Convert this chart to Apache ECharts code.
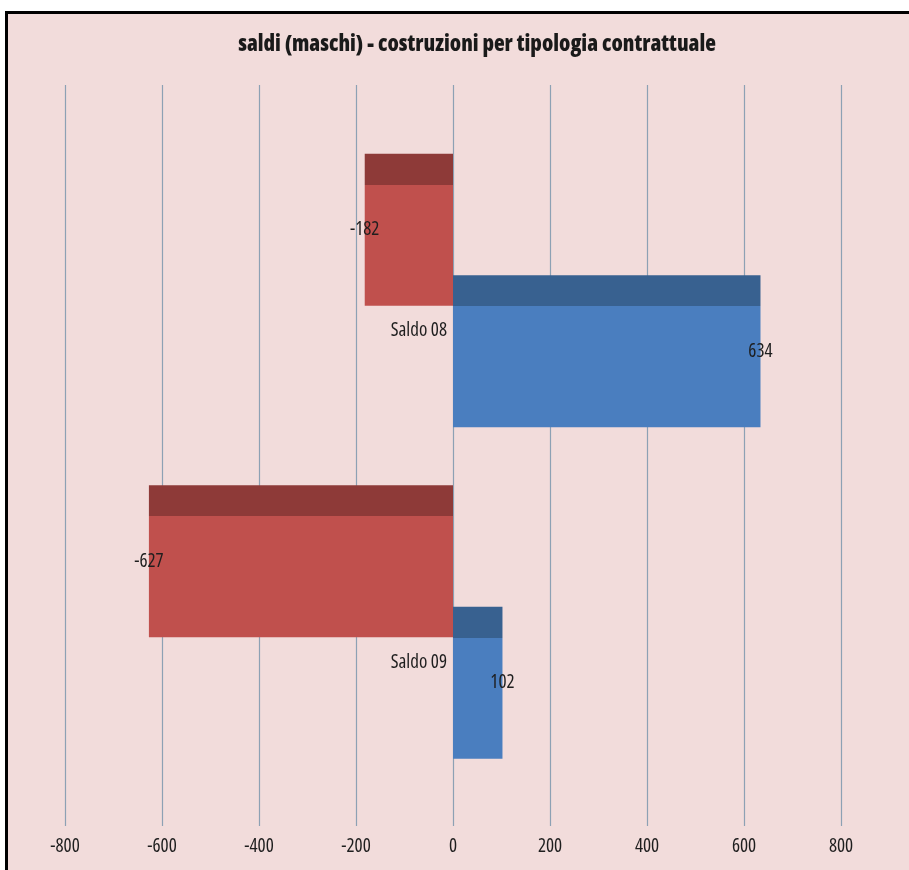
<!DOCTYPE html>
<html>
<head>
<meta charset="utf-8">
<title>saldi (maschi) - costruzioni per tipologia contrattuale</title>
<script src="https://cdn.jsdelivr.net/npm/echarts@6/dist/echarts.min.js"></script>
<style>
  html, body { margin: 0; padding: 0; background: #ffffff; }
  #chart { width: 909px; height: 870px; }
</style>
</head>
<body>
<div id="chart"></div>
<script>
// Balances by contract type, construction sector (men)
const categories = ['Saldo 08', 'Saldo 09'];
const redValues = [-182, -627];
const blueValues = [634, 102];
const tickMin = -800;
const tickMax = 800;
const tickStep = 200;
const titleText = 'saldi (maschi) - costruzioni per tipologia contrattuale';

// Open Sans is a variable font: the "condensed" keyword in the font
// shorthand selects its narrow width
const FONT = '"Open Sans", "DejaVu Sans Condensed", sans-serif';
const NARROW = 'condensed';
const NARROW_BOLD = '800 condensed';
const TEXT_COLOR = '#1e1e1e';
const GRID_COLOR = '#8DA1B4';

// flat bar with a darker strip along its top edge
function barFill(dark, light) {
  return new echarts.graphic.LinearGradient(0, 0, 0, 1, [
    { offset: 0, color: dark },
    { offset: 0.204, color: dark },
    { offset: 0.204, color: light },
    { offset: 1, color: light }
  ]);
}

const chart = echarts.init(document.getElementById('chart'), null, { renderer: 'canvas' });

const valueLabel = {
  show: true,
  distance: 0,
  align: 'center',
  verticalAlign: 'middle',
  fontFamily: FONT,
  fontWeight: NARROW,
  fontSize: 19,
  color: TEXT_COLOR
};

const plotLeft = 65;
const plotRight = 68;
const plotWidth = 909 - plotLeft - plotRight;
// x pixel of the value 0, where the category names sit
const zeroLeft = plotLeft + plotWidth * (0 - tickMin) / (tickMax - tickMin);
const barTop = 124.75;
const barBottom = 82.25;
// category names sit a little below the middle of their bar pair
const nameDrop = 40.5;

chart.setOption({
  backgroundColor: '#ffffff',
  animation: false,
  graphic: [
    {
      type: 'rect',
      z: -10,
      shape: { x: 6.5, y: 12.5, width: 940, height: 900 },
      style: { fill: '#F2DCDB', stroke: '#000000', lineWidth: 3 }
    },
    {
      type: 'text',
      x: 477,
      y: 45,
      style: {
        text: titleText,
        align: 'center',
        verticalAlign: 'middle',
        fontFamily: FONT,
        fontWeight: NARROW_BOLD,
        fontSize: 22,
        fill: '#1a1a1a'
      }
    }
  ],
  grid: [
    // gridlines and tick labels
    { left: plotLeft, right: plotRight, top: 85, bottom: 44, outerBoundsMode: 'none', containLabel: false },
    // bars
    { left: plotLeft, right: plotRight, top: barTop, bottom: barBottom, outerBoundsMode: 'none', containLabel: false },
    // category names, starting at the zero line
    { left: zeroLeft, right: plotRight, top: barTop + nameDrop, bottom: barBottom - nameDrop, outerBoundsMode: 'none', containLabel: false }
  ],
  xAxis: [
    {
      gridIndex: 0,
      type: 'value',
      min: tickMin,
      max: tickMax,
      interval: tickStep,
      axisLine: { show: false },
      axisTick: { show: false },
      splitLine: { show: true, lineStyle: { color: GRID_COLOR, width: 1.2 } },
      axisLabel: {
        margin: 11,
        fontFamily: FONT,
        fontWeight: NARROW,
        fontSize: 19,
        color: TEXT_COLOR
      }
    },
    {
      gridIndex: 1,
      type: 'value',
      min: tickMin,
      max: tickMax,
      interval: tickStep,
      show: false,
      splitLine: { show: false }
    },
    {
      gridIndex: 2,
      type: 'value',
      min: 0,
      max: tickMax,
      show: false,
      splitLine: { show: false }
    }
  ],
  yAxis: [
    {
      gridIndex: 0,
      type: 'value',
      show: false
    },
    {
      gridIndex: 1,
      type: 'category',
      data: categories,
      inverse: true,
      show: false
    },
    {
      gridIndex: 2,
      type: 'category',
      data: categories,
      inverse: true,
      position: 'left',
      axisLine: { show: false, onZero: false },
      axisTick: { show: false },
      splitLine: { show: false },
      axisLabel: {
        show: true,
        interval: 0,
        showMinLabel: true,
        showMaxLabel: true,
        hideOverlap: false,
        margin: 6,
        fontFamily: FONT,
        fontWeight: NARROW,
        fontSize: 19,
        color: TEXT_COLOR
      }
    }
  ],
  series: [
    {
      name: 'serie rossa',
      type: 'bar',
      xAxisIndex: 1,
      yAxisIndex: 1,
      data: redValues,
      barWidth: 152,
      barGap: '-20%',
      itemStyle: { color: barFill('#8E3A38', '#C0504D') },
      label: Object.assign({ position: 'left' }, valueLabel)
    },
    {
      name: 'serie blu',
      type: 'bar',
      xAxisIndex: 1,
      yAxisIndex: 1,
      data: blueValues,
      barWidth: 152,
      barGap: '-20%',
      itemStyle: { color: barFill('#386190', '#4A7EBF') },
      label: Object.assign({ position: 'right' }, valueLabel)
    }
  ]
});
</script>
</body>
</html>
